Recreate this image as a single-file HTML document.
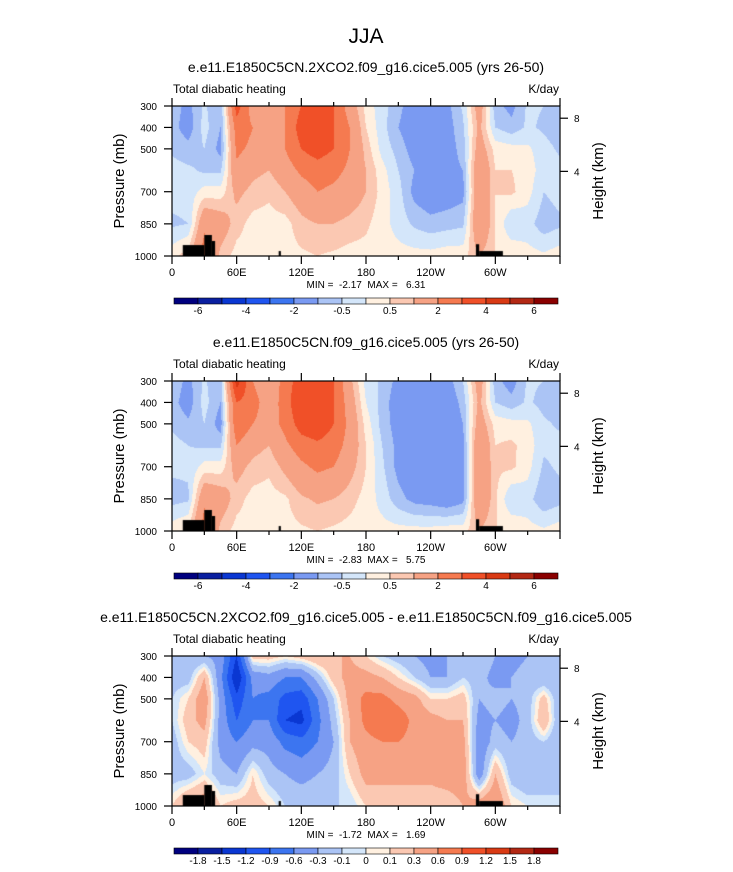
<!DOCTYPE html>
<html><head><meta charset="utf-8"><style>
body{margin:0;background:#fff;}
#wrap{position:relative;width:733px;height:872px;overflow:hidden;font-family:"Liberation Sans",sans-serif;}
canvas{position:absolute;}
svg{position:absolute;left:0;top:0;}
svg text{white-space:pre;}
</style></head><body>
<div id="wrap">
<canvas id="c0" width="388" height="150" style="left:172px;top:106px"></canvas>
<canvas id="c1" width="388" height="150" style="left:172px;top:381px"></canvas>
<canvas id="c2" width="388" height="150" style="left:172px;top:656px"></canvas>
<svg id="ov" width="733" height="872"></svg>
</div>
<script>
const lons=[0,15,30,45,60,75,90,105,120,135,150,165,180,195,210,225,240,255,270,285,300,315,330,345,360];
const levs=[300,400,500,600,700,850,1000];
const xTickLabels=["0","60E","120E","180","120W","60W"];
const yTickLabels=[300,400,500,700,850,1000];
const hTickLabels=[8,4];
const hTickPress=[357,605];
const levelsAbs=[-6,-5,-4,-3,-2,-1,-0.5,0,0.5,1,2,3,4,5,6];
const levelsAbsLabels=["-6","-4","-2","-0.5","0.5","2","4","6"];
const levelsDiff=[-1.8,-1.5,-1.2,-0.9,-0.6,-0.3,-0.1,0,0.1,0.3,0.6,0.9,1.2,1.5,1.8];
const colors=["#00007f","#0a1fa0","#0a37d2","#1f55f0","#3c75f0","#7a9af2","#abc4f5","#d4e6fa","#fff0e0","#fbc8b2","#f6a284","#f57a50","#f05028","#d93a14","#b32814","#8a0000"];
const titles=["e.e11.E1850C5CN.2XCO2.f09_g16.cice5.005 (yrs 26-50)","e.e11.E1850C5CN.f09_g16.cice5.005 (yrs 26-50)","e.e11.E1850C5CN.2XCO2.f09_g16.cice5.005 - e.e11.E1850C5CN.f09_g16.cice5.005"];
const minmax=["MIN =  -2.17  MAX =   6.31","MIN =  -2.83  MAX =   5.75","MIN =  -1.72  MAX =   1.69"];
const topoLon0=[10,30,37,99,282,285];
const topoLon1=[30,37,40,101,285,307];
const topoPs=[949,902,930,977,945,977];
const field2x=[
[-0.7,-0.8,-0.6,-0.3,-0.3,-0.6,0.3],[-1.2,-1.3,-0.8,-0.4,-0.3,-0.5,0.8],[-0.4,-0.3,-0.5,-0.6,0.2,1.8,2.5],
[-1,-1,-1.2,-0.6,0.2,1.5,0.8],[3.5,2.5,2.2,1.8,1.2,0.7,0.3],[1.5,2,1.8,1.2,0.8,0.3,0.3],
[1,1.5,1.5,1,0.6,0.3,0.3],[2,2,2,1.5,1,0.3,0.3],[3,3.5,3,2.2,1.5,0.8,0.4],
[3.5,4,3.5,2.5,2,1,0.5],[3,3,3,2.3,1.8,1,0.4],[1.5,2,2,1.8,1.5,0.8,0.3],
[0.3,0.5,0.8,1,1,0.6,0.3],[-0.3,-0.3,-0.2,0.2,0.3,0.2,0.2],[-0.8,-1,-0.7,-0.5,-0.3,-0.2,0.2],
[-1.5,-1.5,-1.3,-1,-1.2,-0.6,0.2],[-1.5,-1.6,-1.6,-1.2,-1.5,-0.8,0.2],[-1.2,-1.3,-1.3,-1.2,-1.4,-0.7,0.3],
[-0.4,-0.6,-0.8,-1,-1.2,-0.6,0.3],[1.5,1.2,1.5,2,2,2,1],[-0.8,-0.5,0.3,0.5,0.5,0.5,0.5],
[-1.2,-0.8,0.2,0.5,0.6,-0.5,0.5],[-0.4,-0.4,0.1,0.3,0.2,-0.3,0.2],[-0.5,-0.6,-0.3,-0.3,-0.5,-0.8,0.1],
[-0.8,-0.8,-0.6,-0.3,-0.3,-0.6,0.3]];
const fieldCtl=[
[-0.6,-0.8,-0.6,-0.3,-0.4,-0.7,0.3],[-1.2,-1.3,-0.9,-0.5,-0.4,-0.6,0.6],[-0.4,-0.3,-0.5,-0.6,0.2,1.8,2.5],
[-1,-1,-1.3,-0.6,0.2,1.5,0.8],[4.5,3,2.8,2,1.3,0.7,0.3],[2,2.5,2,1.3,0.8,0.3,0.3],
[1,1.3,1.5,1,0.6,0.3,0.3],[2.5,2.5,2.3,1.8,1.2,0.4,0.3],[3.5,4,3.5,2.5,1.8,0.9,0.4],
[3.5,4,3.8,2.8,2.2,1.1,0.5],[3,3,3,2.5,2,1,0.4],[1.2,1.5,1.7,1.6,1.3,0.7,0.3],
[-0.2,0,0.3,0.5,0.5,0.3,0.2],[-0.6,-0.7,-0.7,-0.5,-0.4,-0.2,0.2],[-1.2,-1.4,-1.3,-1.2,-1.2,-0.8,0.2],
[-1.5,-1.6,-1.6,-1.5,-1.5,-1.2,0.2],[-1.6,-1.7,-1.7,-1.6,-1.6,-1.3,0.2],[-1.3,-1.5,-1.6,-1.6,-1.6,-1.5,0.3],
[-0.5,-0.8,-1,-1.2,-1.3,-1.2,0.3],[1.5,1.2,1.5,2,2,2,1],[-0.8,-0.5,0.3,0.5,0.6,0.6,0.5],
[-1.3,-0.8,0.2,0.6,0.6,-0.5,0.5],[-0.4,-0.4,0.1,0.3,0.2,-0.3,0.2],[-0.5,-0.7,-0.4,-0.4,-0.6,-0.9,0.1],
[-0.7,-0.8,-0.6,-0.3,-0.4,-0.7,0.3]];
const fieldDiff=[
[-0.2,-0.2,-0.1,-0.1,-0.2,-0.2,0.1],[-0.3,-0.2,0.1,0.2,0.1,-0.2,0.4],[-0.3,0.3,0.5,0.4,0.2,0,0.5],
[-0.4,-0.5,-0.4,-0.4,-0.4,-0.2,0.1],[-1.2,-1.5,-1.1,-0.9,-0.6,-0.3,0.2],[0.2,-0.5,-0.6,-0.6,-0.4,0.1,0.2],
[0.2,-0.4,-0.7,-0.6,-0.4,-0.2,0.1],[0.1,-0.6,-1,-1.2,-0.7,-0.3,-0.1],[0.2,-0.6,-1.1,-1.3,-0.8,-0.4,-0.1],
[0.3,-0.2,-0.6,-0.7,-0.6,-0.3,-0.1],[0.3,0.2,-0.1,-0.2,-0.3,-0.2,-0.1],[0.3,0.4,0.4,0.3,0.3,0.1,-0.1],
[0.1,0.4,0.7,0.7,0.5,0.4,0.1],[-0.1,0.3,0.7,0.9,0.6,0.4,0.1],[-0.2,0.1,0.5,0.8,0.6,0.4,0.1],
[-0.3,-0.1,0.4,0.5,0.5,0.4,0.1],[-0.4,-0.3,0.1,0.4,0.4,0.4,0.1],[-0.3,-0.3,0.1,0.3,0.4,0.5,0.1],
[-0.1,-0.1,0.2,0.3,0.4,0.5,0.3],[-0.1,-0.2,-0.3,-0.4,-0.5,-0.5,0.5],[-0.3,-0.4,-0.2,-0.3,-0.2,0.3,0.6],
[-0.4,-0.3,-0.3,-0.4,-0.3,-0.2,0.1],[-0.3,-0.2,-0.2,-0.2,-0.2,-0.3,0],[-0.2,-0.3,0.2,0.3,-0.1,-0.3,0],
[-0.3,-0.3,-0.3,-0.3,-0.3,-0.3,0]];

const PX=172,PW=388,PH=150;
const tops=[106,381,656];
const fields=[field2x,fieldCtl,fieldDiff];
const levelSets=[levelsAbs,levelsAbs,levelsDiff];
function xOf(lon){return PX+lon/360*PW;}
function yOf(p,top){return top+(p-300)/700*PH;}
function sample(f,lon,p){
  let i=Math.min(Math.floor(lon/15),lons.length-2);let tx=(lon-lons[i])/15;
  let j=0;while(j<levs.length-2&&p>levs[j+1])j++;
  let ty=(p-levs[j])/(levs[j+1]-levs[j]);
  const a=f[i][j],b=f[i+1][j],c=f[i][j+1],d=f[i+1][j+1];
  return (a*(1-tx)+b*tx)*(1-ty)+(c*(1-tx)+d*tx)*ty;
}
function boxOf(v,lv){let k=0;while(k<lv.length&&v>=lv[k])k++;return k;}
const rgb=colors.map(h=>[parseInt(h.substr(1,2),16),parseInt(h.substr(3,2),16),parseInt(h.substr(5,2),16)]);
for(let n=0;n<3;n++){
  const cv=document.getElementById('c'+n),ctx=cv.getContext('2d');
  const img=ctx.createImageData(PW,PH);
  for(let y=0;y<PH;y++){const p=300+(y+0.5)/PH*700;
    for(let x=0;x<PW;x++){const lon=(x+0.5)/PW*360;
      const v=sample(fields[n],lon,p);const c=rgb[boxOf(v,levelSets[n])];
      const o=(y*PW+x)*4;img.data[o]=c[0];img.data[o+1]=c[1];img.data[o+2]=c[2];img.data[o+3]=255;}}
  ctx.putImageData(img,0,0);
  ctx.fillStyle='#000';
  for(let t=0;t<topoPs.length;t++){
    const x0=topoLon0[t]/360*PW,x1=topoLon1[t]/360*PW,y0=(topoPs[t]-300)/700*PH;
    ctx.fillRect(x0,y0,x1-x0,PH-y0);
  }
}
const svg=document.getElementById('ov');const NS='http://www.w3.org/2000/svg';
function el(tag,attrs,txt){const e=document.createElementNS(NS,tag);for(const k in attrs)e.setAttribute(k,attrs[k]);if(txt!==undefined)e.textContent=txt;svg.appendChild(e);return e;}
let e=el('text',{x:366,y:43,'text-anchor':'middle','font-size':21},'JJA');


for(let n=0;n<3;n++){
  const top=tops[n],bot=top+PH;
  e=el('text',{x:366,y:top-34,'text-anchor':'middle','font-size':14},titles[n]);
  
  
  e=el('text',{x:173,y:top-13,'font-size':12},'Total diabatic heating');
  
  
  e=el('text',{x:559,y:top-13,'text-anchor':'end','font-size':12},'K/day');
  
  
  e=el('rect',{x:PX,y:top,width:PW,height:PH,fill:'none',stroke:'#000','stroke-width':1.2});
  
  
  for(let lon=0;lon<=360;lon+=30){const x=xOf(lon),L=(lon%60===0)?8:4;
    e=el('line',{x1:x,y1:top,x2:x,y2:top-L,stroke:'#000','stroke-width':1.2});
    
    
    e=el('line',{x1:x,y1:bot,x2:x,y2:bot+L,stroke:'#000','stroke-width':1.2});
    
    
  }
  xTickLabels.forEach((s,i)=>{const t=el('text',{x:xOf(i*60),y:bot+20,'text-anchor':'middle','font-size':11},s);
    
    });
  yTickLabels.forEach(p=>{const y=yOf(p,top);
    let t=el('line',{x1:PX,y1:y,x2:PX-8,y2:y,stroke:'#000','stroke-width':1.2});
    
    
    t=el('text',{x:157,y:y+4,'text-anchor':'end','font-size':10},String(p));
    
    });
  hTickLabels.forEach((h,i)=>{const y=yOf(hTickPress[i],top);
    let t=el('line',{x1:PX+PW,y1:y,x2:PX+PW+8,y2:y,stroke:'#000','stroke-width':1.2});
    
    
    t=el('text',{x:574,y:y+4,'font-size':10},String(h));
    
    });
  e=el('text',{x:0,y:0,'text-anchor':'middle','font-size':15,transform:`translate(124,${top+75}) rotate(-90)`},'Pressure (mb)');
  
  
  e=el('text',{x:0,y:0,'text-anchor':'middle','font-size':15,transform:`translate(603,${top+75}) rotate(-90)`},'Height (km)');
  
  
  e=el('text',{x:366,y:bot+32,'text-anchor':'middle','font-size':10},minmax[n]);
  
  
  const cy=top+192,cx=174,cw=384,bw=cw/16;
  for(let k=0;k<16;k++){
    e=el('rect',{x:cx+k*bw,y:cy,width:bw,height:6,fill:colors[k],stroke:'#000','stroke-width':0.6});
    
    
  }
  if(n<2){levelsAbsLabels.forEach((s,i)=>{const t=el('text',{x:cx+(1+2*i)*bw,y:cy+16,'text-anchor':'middle','font-size':10},s);
    
    });}
  else{levelsDiff.forEach((v,i)=>{const t=el('text',{x:cx+(1+i)*bw,y:cy+16,'text-anchor':'middle','font-size':10},String(v));
    
    });}
}
</script>
</body></html>
